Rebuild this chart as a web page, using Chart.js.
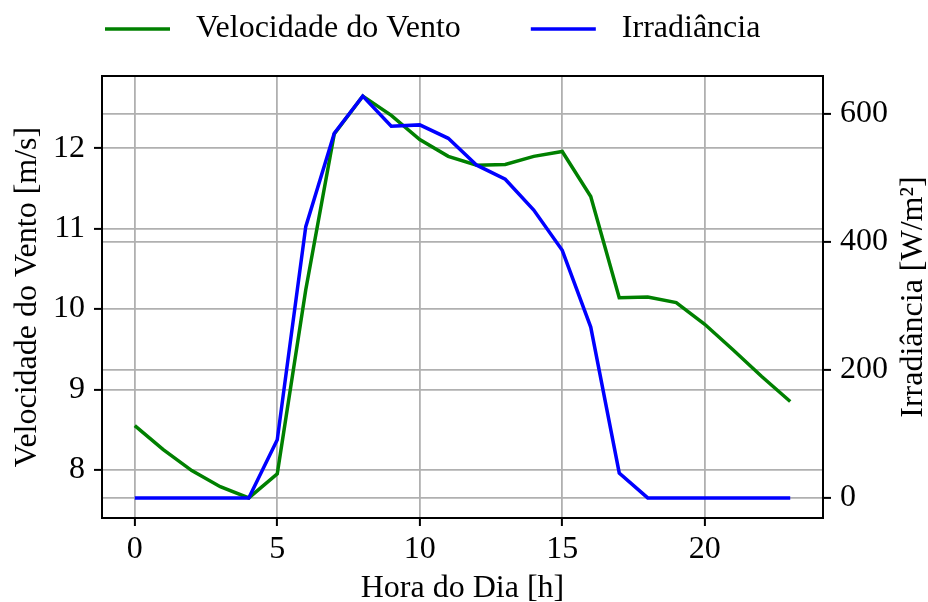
<!DOCTYPE html>
<html>
<head>
<meta charset="utf-8">
<script src="https://cdn.jsdelivr.net/npm/chart.js@4"></script>
<style>
  html, body { margin: 0; padding: 0; background: #fff; overflow: hidden; }
  #wrap { width: 928px; height: 609px; }
</style>
</head>
<body>
<div id="wrap"><canvas id="myChart"></canvas></div>
<script>
// dados
var horas = [0, 1, 2, 3, 4, 5, 6, 7, 8, 9, 10, 11, 12, 13, 14, 15, 16, 17, 18, 19, 20, 21, 22, 23];
var velocidade = [8.55, 8.25, 7.99, 7.79, 7.65, 7.95, 10.24, 12.18, 12.65, 12.41, 12.11, 11.90,
                  11.79, 11.80, 11.90, 11.96, 11.40, 10.14, 10.15, 10.08, 9.81, 9.49, 9.16, 8.85];
var irradiancia = [0, 0, 0, 0, 0, 91, 424, 570, 628, 581, 583, 562,
                   520, 498, 450, 387, 267, 39, 0, 0, 0, 0, 0, 0];
var ticksHora = [0, 5, 10, 15, 20];
var ticksVelocidade = [8, 9, 10, 11, 12];
var ticksIrradiancia = [0, 200, 400, 600];

var fonte = { family: '"Liberation Serif", "Times New Roman", serif', size: 32, lineHeight: 1.2 };
var cinza = '#b0b0b0';

function margem(arr) {
    var mn = Math.min.apply(null, arr), mx = Math.max.apply(null, arr);
    var d = (mx - mn) * 0.05;
    return { min: mn - d, max: mx + d };
}
var rx = margem(horas), rv = margem(velocidade), ri = margem(irradiancia);

function pontos(ys) {
    return horas.map((h, i) => ({ x: h, y: ys[i] }));
}

// legenda, moldura e título do eixo direito
var extras = {
    id: 'extras',
    afterDatasetsDraw(chart) {
        const ctx = chart.ctx;
        const a = chart.chartArea;
        ctx.save();
        ctx.strokeStyle = '#000';
        ctx.lineWidth = 2;
        ctx.strokeRect(a.left, a.top, a.right - a.left, a.bottom - a.top);
        ctx.restore();
    },
    afterDraw(chart) {
        const ctx = chart.ctx;
        const a = chart.chartArea;
        ctx.save();
        ctx.font = '32px "Liberation Serif", serif';
        ctx.fillStyle = '#000';
        ctx.textBaseline = 'middle';
        // título do eixo direito, lido de baixo para cima
        ctx.save();
        ctx.translate(914, (a.top + a.bottom) / 2);
        ctx.rotate(-Math.PI / 2);
        ctx.textAlign = 'center';
        ctx.fillText('Irradiância [W/m²]', 0, 0);
        ctx.restore();
        // legenda
        var x = 105, y = 29;
        ['vel', 'irr'].forEach(function(id) {
            var ds = chart.data.datasets.find(d => d.id === id);
            ctx.strokeStyle = ds.borderColor;
            ctx.lineWidth = 3.5;
            ctx.beginPath();
            ctx.moveTo(x, y);
            ctx.lineTo(x + 65, y);
            ctx.stroke();
            ctx.textAlign = 'left';
            ctx.fillText(ds.label, x + 91, y);
            x += 91 + ctx.measureText(ds.label).width + 70;
        });
        ctx.restore();
    }
};

const ctx = document.getElementById('myChart');

new Chart(ctx, {
    type: 'line',
    data: {
        datasets: [{
            id: 'vel',
            label: 'Velocidade do Vento',
            data: pontos(velocidade),
            borderColor: 'green',
            borderWidth: 3.5,
            pointRadius: 0,
            yAxisID: 'y',
            order: 1
        }, {
            id: 'irr',
            label: 'Irradiância',
            data: pontos(irradiancia),
            borderColor: 'blue',
            borderWidth: 3.5,
            pointRadius: 0,
            yAxisID: 'y2',
            order: 0
        }]
    },
    options: {
        responsive: true,
        maintainAspectRatio: false,
        animation: false,
        layout: { padding: { top: 76, left: 0, right: 0, bottom: 0 } },
        plugins: {
            legend: { display: false },
            tooltip: { enabled: false }
        },
        scales: {
            x: {
                type: 'linear',
                min: rx.min,
                max: rx.max,
                afterBuildTicks: s => { s.ticks = ticksHora.map(v => ({ value: v })); },
                afterFit: s => { s.height = 91; },
                ticks: { color: '#000', font: fonte, padding: 4, maxRotation: 0 },
                grid: { color: cinza, lineWidth: 1.8, tickColor: '#000', tickWidth: 2, tickLength: 8 },
                border: { display: false },
                title: { display: true, text: 'Hora do Dia [h]', color: '#000', font: fonte, padding: { top: 0, bottom: 1 } }
            },
            y: {
                position: 'left',
                min: rv.min,
                max: rv.max,
                afterBuildTicks: s => { s.ticks = ticksVelocidade.map(v => ({ value: v })); },
                afterFit: s => { s.width = 102; },
                ticks: { color: '#000', font: fonte, padding: 9 },
                grid: { color: cinza, lineWidth: 1.8, tickColor: '#000', tickWidth: 2, tickLength: 8 },
                border: { display: false },
                title: { display: true, text: 'Velocidade do Vento [m/s]', color: '#000', font: fonte, padding: { top: 8, bottom: 0 } }
            },
            y2: {
                position: 'right',
                min: ri.min,
                max: ri.max,
                afterBuildTicks: s => { s.ticks = ticksIrradiancia.map(v => ({ value: v })); },
                afterFit: s => { s.width = 105; },
                ticks: { color: '#000', font: fonte, padding: 9 },
                grid: { color: cinza, lineWidth: 1.8, tickColor: '#000', tickWidth: 2, tickLength: 8 },
                border: { display: false }
            }
        }
    },
    plugins: [extras]
});
</script>
</body>
</html>
